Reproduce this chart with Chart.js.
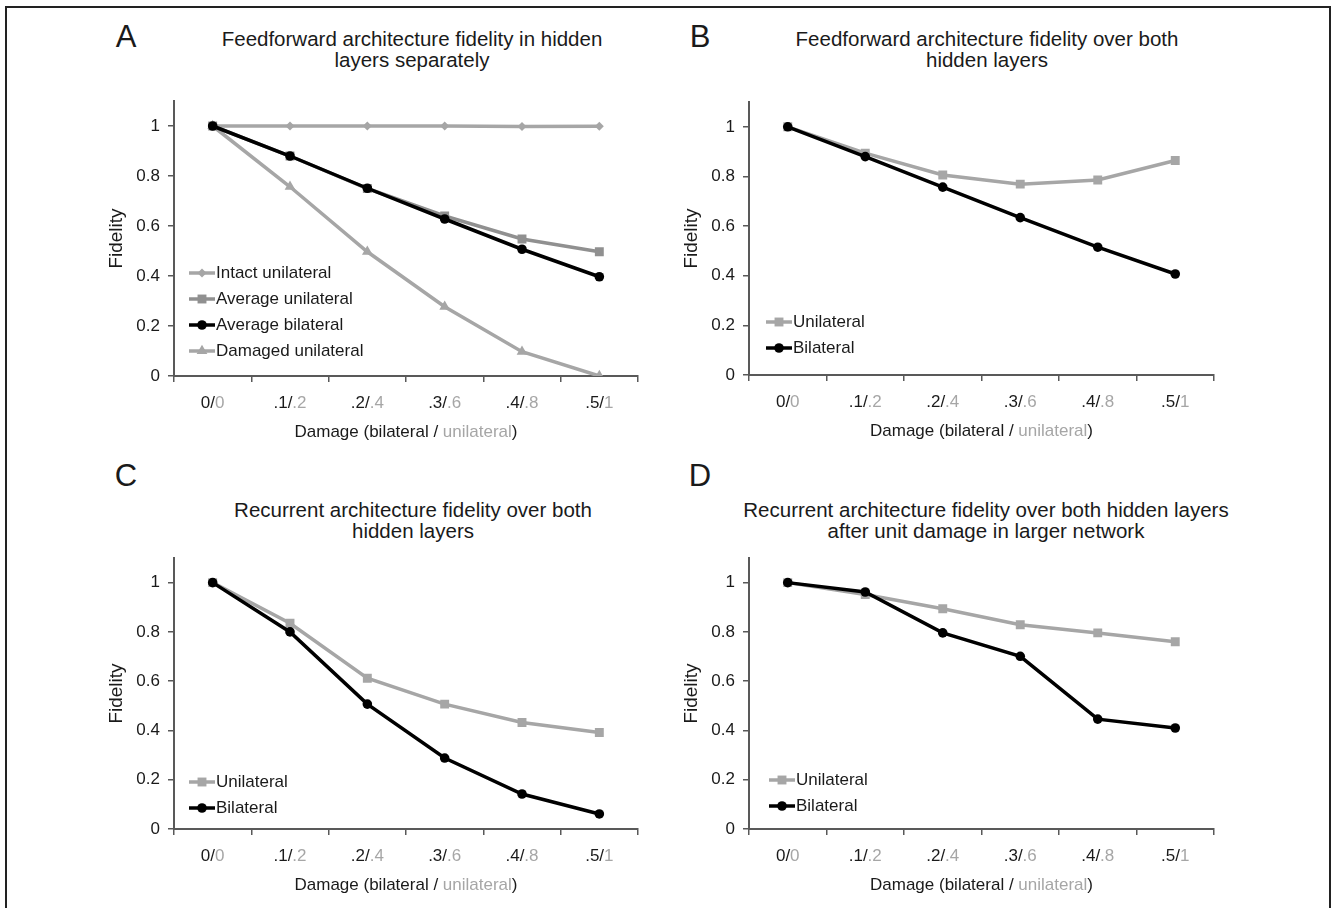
<!DOCTYPE html>
<html>
<head>
<meta charset="utf-8">
<script src="https://cdn.jsdelivr.net/npm/chart.js@4/dist/chart.umd.min.js"></script>
<style>
    html, body { margin: 0; padding: 0; background: #fff; overflow: hidden; }
    body { width: 1333px; height: 908px; position: relative; font-family: "Liberation Sans", Arial, sans-serif; color: #1a1a1a; }
    .frame { position: absolute; left: 5px; top: 6px; width: 1326px; height: 920px; box-sizing: border-box; border: 2px solid #222; }
    .letter { position: absolute; font-size: 31px; line-height: 31px; width: 40px; text-align: center; }
    .title { position: absolute; width: 600px; font-size: 20.5px; line-height: 21px; text-align: center; }
    canvas { position: absolute; }
</style>
</head>
<body>
<div class="frame"></div>

<div class="letter" style="left:106px; top:21px;">A</div>
<div class="title" style="left:112px; top:28px;">Feedforward architecture fidelity in hidden<br>layers separately</div>

<div class="letter" style="left:680px; top:21px;">B</div>
<div class="title" style="left:687px; top:28px;">Feedforward architecture fidelity over both<br>hidden layers</div>

<div class="letter" style="left:106px; top:460px;">C</div>
<div class="title" style="left:113px; top:499px;">Recurrent architecture fidelity over both<br>hidden layers</div>

<div class="letter" style="left:680px; top:460px;">D</div>
<div class="title" style="left:686px; top:499px;">Recurrent architecture fidelity over both hidden layers<br>after unit damage in larger network</div>

<canvas id="chartA"></canvas>
<canvas id="chartB"></canvas>
<canvas id="chartC"></canvas>
<canvas id="chartD"></canvas>

<script>
// ==================== DATA ====================

const damageLabels = ['0/0', '.1/.2', '.2/.4', '.3/.6', '.4/.8', '.5/1'];
const fidelityTicks = [0, 0.2, 0.4, 0.6, 0.8, 1];

// A - feedforward, hidden layers separately
const ffSepIntactUni = [1, 1, 1, 1, 0.998, 0.999];
const ffSepAvgUni = [1, 0.88, 0.75, 0.64, 0.548, 0.497];
const ffSepAvgBi = [1, 0.88, 0.751, 0.628, 0.507, 0.397];
const ffSepDamagedUni = [1, 0.757, 0.497, 0.277, 0.097, 0];

// B - feedforward, both hidden layers
const ffBothUni = [1, 0.894, 0.806, 0.769, 0.786, 0.864];
const ffBothBi = [1, 0.88, 0.757, 0.634, 0.515, 0.407];

// C - recurrent, both hidden layers
const recBothUni = [1, 0.835, 0.612, 0.507, 0.432, 0.392];
const recBothBi = [1, 0.80, 0.507, 0.288, 0.142, 0.061];

// D - recurrent, larger network
const recLargeUni = [1, 0.952, 0.894, 0.829, 0.796, 0.760];
const recLargeBi = [1, 0.962, 0.796, 0.701, 0.446, 0.410];

// ==================== STYLE ====================

const DARK = '#1a1a1a';
const LIGHT = '#a6a6a6';
const AXIS = '#595959';
const FONT = '"Liberation Sans", Arial, sans-serif';

Chart.defaults.font.family = FONT;
Chart.defaults.color = DARK;

function serie(label, data, color, style, radius, order) {
    return {
        label: label,
        data: data,
        borderColor: color,
        backgroundColor: color,
        pointBackgroundColor: color,
        pointBorderWidth: 0,
        pointStyle: style,
        pointRadius: radius,
        borderWidth: 3.5,
        tension: 0,
        order: order
    };
}

function uni(data) { return serie('Unilateral', data, LIGHT, 'rect', 6.3, 2); }
function bi(data) { return serie('Bilateral', data, '#000', 'circle', 4.8, 1); }

// tick labels, axis title and legend drawn with two-tone text
const panelDecor = {
    id: 'panelDecor',
    afterDraw(chart, args, opts) {
        const { ctx, chartArea } = chart;
        const x = chart.scales.x;
        ctx.save();
        ctx.font = '17px ' + FONT;
        ctx.textBaseline = 'middle';
        ctx.textAlign = 'left';

        chart.data.labels.forEach((lab, i) => {
            const cut = lab.indexOf('/') + 1;
            const a = lab.slice(0, cut), b = lab.slice(cut);
            const wa = ctx.measureText(a).width, wb = ctx.measureText(b).width;
            const x0 = x.getPixelForValue(i) - (wa + wb) / 2;
            const y = chartArea.bottom + 27;
            ctx.fillStyle = DARK; ctx.fillText(a, x0, y);
            ctx.fillStyle = LIGHT; ctx.fillText(b, x0 + wa, y);
        });

        const parts = [['Damage (bilateral / ', DARK], ['unilateral', LIGHT], [')', DARK]];
        const total = parts.reduce((s, p) => s + ctx.measureText(p[0]).width, 0);
        let tx = (chartArea.left + chartArea.right) / 2 - total / 2;
        parts.forEach(p => {
            ctx.fillStyle = p[1];
            ctx.fillText(p[0], tx, chartArea.bottom + 56);
            tx += ctx.measureText(p[0]).width;
        });

        let ly = chartArea.top + opts.top;
        const lx = chartArea.left + opts.left;
        chart.data.datasets.forEach(ds => {
            ctx.strokeStyle = ds.borderColor;
            ctx.lineWidth = ds.borderWidth;
            ctx.beginPath(); ctx.moveTo(lx, ly); ctx.lineTo(lx + 26, ly); ctx.stroke();
            ctx.fillStyle = ds.pointBackgroundColor;
            Chart.helpers.drawPoint(ctx, { pointStyle: ds.pointStyle, radius: ds.pointRadius, borderWidth: 0, rotation: 0 }, lx + 13, ly);
            ctx.fillStyle = DARK;
            ctx.fillText(ds.label, lx + 27, ly);
            ly += 26;
        });
        ctx.restore();
    }
};

function makePanel(id, area, datasets, legend) {
    const cv = document.getElementById(id);
    cv.width = area.right - area.left + 150;
    cv.height = area.bottom - area.top + 90;
    cv.style.left = (area.left - 100) + 'px';
    cv.style.top = (area.top - 20) + 'px';

    return new Chart(cv, {
        type: 'line',
        data: { labels: damageLabels, datasets: datasets },
        plugins: [panelDecor],
        options: {
            responsive: false,
            animation: false,
            devicePixelRatio: 1,
            layout: { padding: { top: 20, right: 50, left: 0, bottom: 0 } },
            plugins: {
                legend: { display: false },
                tooltip: { enabled: false },
                panelDecor: legend
            },
            scales: {
                x: {
                    type: 'category',
                    offset: true,
                    grid: { offset: true, drawOnChartArea: false, drawTicks: true, tickLength: 6, color: AXIS, lineWidth: 1.5 },
                    border: { display: true, color: AXIS, width: 2 },
                    ticks: { display: false },
                    afterFit: s => { s.height = 70; s.paddingLeft = 0; s.paddingRight = 0; }
                },
                y: {
                    min: 0,
                    max: 1.1,
                    afterBuildTicks: s => { s.ticks = fidelityTicks.map(v => ({ value: v })); },
                    grid: { drawOnChartArea: false, drawTicks: true, tickLength: 6, color: AXIS, lineWidth: 1.5 },
                    border: { display: true, color: AXIS, width: 2 },
                    ticks: { padding: 8, color: DARK, font: { size: 17 }, callback: v => String(v) },
                    title: { display: true, text: 'Fidelity', color: DARK, font: { size: 19 }, padding: { top: 31, bottom: 0 } },
                    afterFit: s => { s.width = 100; s.paddingTop = 0; s.paddingBottom = 0; }
                }
            }
        }
    });
}

makePanel('chartA', { left: 174, right: 638, top: 101, bottom: 376 }, [
    serie('Intact unilateral', ffSepIntactUni, LIGHT, 'rectRot', 4.5, 3),
    serie('Average unilateral', ffSepAvgUni, '#909090', 'rect', 6.3, 2),
    serie('Average bilateral', ffSepAvgBi, '#000', 'circle', 4.8, 1),
    serie('Damaged unilateral', ffSepDamagedUni, LIGHT, 'triangle', 6.2, 4)
], { left: 15, top: 172 });

makePanel('chartB', { left: 749, right: 1214, top: 102, bottom: 375 },
    [uni(ffBothUni), bi(ffBothBi)], { left: 17, top: 220 });

makePanel('chartC', { left: 174, right: 638, top: 558, bottom: 829 },
    [uni(recBothUni), bi(recBothBi)], { left: 15, top: 224 });

makePanel('chartD', { left: 749, right: 1214, top: 558, bottom: 829 },
    [uni(recLargeUni), bi(recLargeBi)], { left: 20, top: 222 });
</script>
</body>
</html>
